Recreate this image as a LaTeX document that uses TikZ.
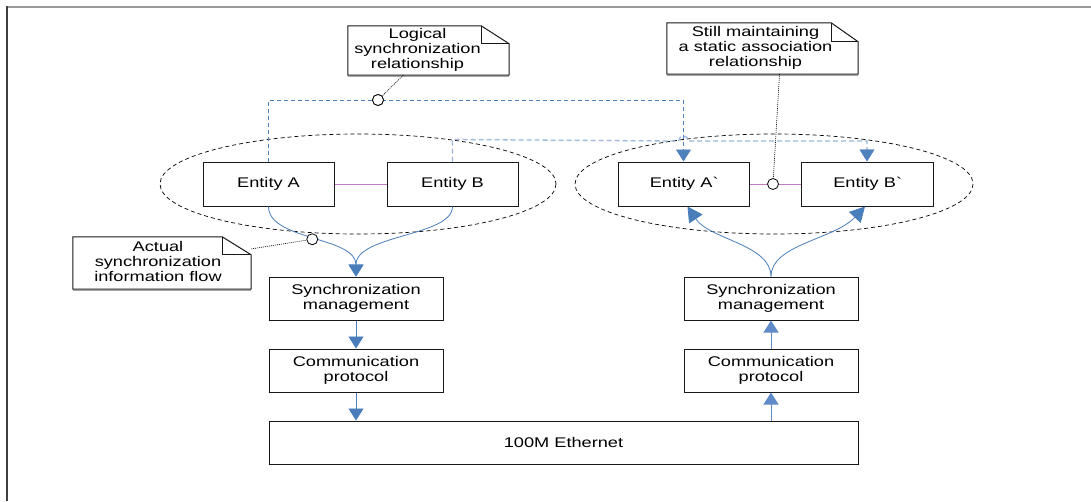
\documentclass[tikz,border=0pt]{standalone}
\usepackage{fontspec}
\setmainfont{Liberation Sans}[FakeStretch=1.3]
\usetikzlibrary{arrows.meta,shadows}

\definecolor{flowblue}{HTML}{4A7EBB}
\definecolor{riseblue}{HTML}{5F8CC8}
\definecolor{logicblue}{HTML}{4F81BD}
\definecolor{paleblue}{HTML}{9BB7DB}
\definecolor{assoc}{HTML}{C47BC6}
\definecolor{topline}{HTML}{9A9A9A}
\definecolor{sideline}{HTML}{404040}

% outline of a note with a folded top-right corner
\newcommand\notefold[3]{%
  \draw[notefrm] (#1.north west) -- ([xshift=-#2pt]#1.north east)
    -- ([yshift=-#3pt]#1.north east) -- (#1.south east) -- (#1.south west) -- cycle;
  \draw[notefrm] ([xshift=-#2pt]#1.north east) -- ([xshift=-#2pt,yshift=-#3pt]#1.north east)
    -- ([yshift=-#3pt]#1.north east);
  \draw[gray!70, line width=1.2pt] ([yshift=-1.2pt]#1.south west) -- ([yshift=-1.2pt]#1.south east);}

\tikzset{
  txt/.style={font=\fontsize{14}{15}\selectfont},
  box/.style={txt, draw=black!90, fill=white, line width=1pt, align=center, inner sep=0pt,
    drop shadow={shadow xshift=0pt, shadow yshift=-1.3pt, fill=gray!70, opacity=1}},
  entity/.style={box, minimum width=131pt, minimum height=44pt},
  layer/.style={box, minimum width=174pt, minimum height=43pt},
  notebody/.style={txt, inner sep=0pt},
  notefrm/.style={draw=black!90, line width=1pt, line join=miter},
  group/.style={draw=black, line width=0.7pt, dash pattern=on 4pt off 3pt},
  tip/.style={-{Triangle[width=15pt,length=12pt]}},
  bigtip/.style={-{Triangle[width=16pt,length=15pt]}},
  flow/.style={draw=flowblue, line width=0.8pt, tip, color=flowblue},
  rise/.style={flow, draw=riseblue, color=riseblue, line width=1pt},
  logic/.style={draw=logicblue, line width=0.8pt, dash pattern=on 4pt off 3pt},
  pale/.style={draw=paleblue, line width=1.3pt, dash pattern=on 5pt off 3pt},
  assocline/.style={draw=assoc, line width=0.8pt},
  notelink/.style={draw=black, line width=0.6pt, dash pattern=on 1pt off 1pt},
  hookdot/.style={circle, draw=black, fill=white, line width=0.8pt, minimum size=11pt, inner sep=0pt}
}

\begin{document}
\begin{tikzpicture}[x=1pt,y=-1pt]
\useasboundingbox (0,0) rectangle (1091,501);
\fill[white] (0,0) rectangle (1091,501);
\draw[topline, line width=2pt] (6,7) -- (1091,7);
\draw[sideline, line width=2pt] (7,6) -- (7,501);

% the two entity groups
\draw[group] (358,184) ellipse [x radius=198, y radius=50];
\draw[group] (774,184) ellipse [x radius=199, y radius=50];

% boxes
\node[entity] (entA)  at (268.5,184) {Entity A};
\node[entity] (entB)  at (452.5,184) {Entity B};
\node[entity] (entAp) at (683.5,184) {Entity A\textasciigrave};
\node[entity, minimum width=132pt] (entBp) at (867,184) {Entity B\textasciigrave};
\node[layer] (syncL) at (356,298.5) {Synchronization\\management};
\node[layer] (commL) at (356,370.5) {Communication\\protocol};
\node[layer] (syncR) at (771,298.5) {Synchronization\\management};
\node[layer] (commR) at (771,370.5) {Communication\\protocol};
\node[box, minimum width=589pt, minimum height=43pt] (eth) at (563.5,442.5) {100M Ethernet};

% logical synchronization links
\node[hookdot] (c1) at (378,100) {};
\draw[logic, tip, color=logicblue] (entA.north) |- (c1.center) -| (entAp.north);
\draw[pale] (entB.north) -- ++(0,-22) -- (678.5,141)
  arc[start angle=180, end angle=360, radius=5] -| ([yshift=12pt]entBp.north);
\draw[logicblue, tip] ([yshift=13pt]entBp.north) -- (entBp.north);
\node[hookdot] at (c1) {};

% static association
\draw[assocline] (entA) -- (entB);
\draw[assocline] (entAp) -- (entBp);

% actual synchronization flow
\draw[flow] (entA.south) .. controls +(0,34) and +(0,-40) .. (syncL.north)
  coordinate[pos=0.5] (amid);
\draw[flow] (entB.south) .. controls +(0,30) and +(0,-42) .. (syncL.north);
\draw[flow] (syncL) -- (commL);
\draw[flow] (commL.south) -- (commL.south |- eth.north);
\draw[rise] (commR.south |- eth.north) -- (commR.south);
\draw[rise] (commR) -- (syncR);
\draw[flow, bigtip] (syncR.north) .. controls +(0,-32) and +(22,33) .. ([xshift=4pt]entAp.south);
\draw[flow, bigtip] (syncR.north) .. controls +(0,-32) and +(-31,33) .. ([xshift=-2pt]entBp.south);

% notes
\node[notebody, minimum width=161pt, minimum height=49pt] (lognote) at (428.5,50.5)
  {\hspace*{-22pt}\begin{tabular}{@{}c@{}}Logical\\synchronization\\relationship\end{tabular}};
\notefold{lognote}{28}{18}
\node[notebody, minimum width=191pt, minimum height=51pt] (stillnote) at (762.5,48.5)
  {\hspace*{-14pt}\begin{tabular}{@{}c@{}}Still maintaining\\a static association\\relationship\end{tabular}};
\notefold{stillnote}{27}{19}
\node[notebody, minimum width=178pt, minimum height=52pt] (actnote) at (162,263)
  {\hspace*{-8pt}\begin{tabular}{@{}c@{}}Actual\\synchronization\\information flow\end{tabular}};
\notefold{actnote}{29}{18}

% note pointers
\node[hookdot] (c2) at (amid) {};
\node[hookdot] (c3) at (773,184) {};
\draw[notelink] (lognote) -- (c1);
\draw[notelink] ([xshift=17pt]stillnote.south) -- (c3);
\draw[notelink] (actnote) -- (c2);
\end{tikzpicture}
\end{document}
